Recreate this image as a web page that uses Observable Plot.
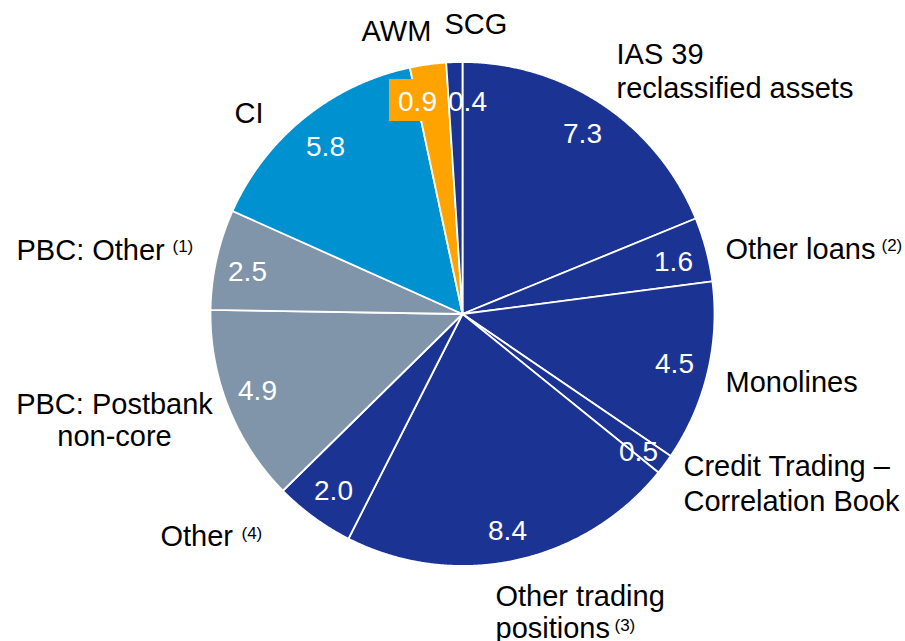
<!DOCTYPE html>
<html>
<head>
<meta charset="utf-8">
<script src="https://cdn.jsdelivr.net/npm/d3@7"></script>
<script src="https://cdn.jsdelivr.net/npm/@observablehq/plot@0.6"></script>
<style>
  html, body { margin: 0; padding: 0; background: #fff; }
  #chart svg { display: block; }
</style>
</head>
<body>
<div id="chart"></div>
<script>
// ---- data ----
const categories = [
  "IAS 39 reclassified assets", "Other loans", "Monolines",
  "Credit Trading – Correlation Book", "Other trading positions", "Other",
  "PBC: Postbank non-core", "PBC: Other", "CI", "AWM", "SCG"
];
const values = [7.3, 1.6, 4.5, 0.5, 8.4, 2.0, 4.9, 2.5, 5.8, 0.9, 0.4];
const segments = ["CB&S", "CB&S", "CB&S", "CB&S", "CB&S", "CB&S", "PBC", "PBC", "CI", "AWM", "SCG"];

// ---- style / layout ----
const palette = {"CB&S": "#1b3494", "PBC": "#8095a9", "CI": "#0091d0", "AWM": "#ffa300", "SCG": "#1b3494"};
const W = 905, H = 641;
const cx = 462, cy = 313.5, R = 252;
const FONT = "'Liberation Sans', Arial, Helvetica, sans-serif";

// category label lines: [category index, line text, x, baseline y, anchor]
const labelLayout = [
  [0, "IAS 39", 616, 63, "start"],
  [0, "reclassified assets", 616, 97, "start"],
  [1, "Other loans", 725, 258, "start"],
  [2, "Monolines", 725, 391, "start"],
  [3, "Credit Trading –", 683, 475, "start"],
  [3, "Correlation Book", 683, 510, "start"],
  [4, "Other trading", 495, 605, "start"],
  [4, "positions", 495, 637, "start"],
  [5, "Other", 160, 545, "start"],
  [6, "PBC: Postbank", 114, 413, "middle"],
  [6, "non-core", 114, 445, "middle"],
  [7, "PBC: Other", 16, 259, "start"],
  [8, "CI", 234, 122, "start"],
  [9, "AWM", 361, 40, "start"],
  [10, "SCG", 444, 33, "start"]
];
// footnote marks: [text, x, baseline y]
const footnotes = [
  ["(1)", 172, 251],
  ["(2)", 881, 250],
  ["(3)", 614, 630],
  ["(4)", 241, 538]
];
// value label positions (center x, baseline y), by category index
const valuePos = [
  [582, 142], [673, 270], [674, 372], [638, 460], [507, 539], [333, 499],
  [257, 399], [247, 280], [325, 155], [417, 110], [467, 110]
];
// highlight box behind the AWM value
const awmBox = [{x1: 389, x2: 440, y1: 79, y2: 121}];

// ---- build slices from data ----
const pie = d3.pie().sort(null).value(d => d)(values);
const slicePoints = [];
pie.forEach((p, i) => {
  const name = categories[i];
  const color = palette[segments[i]];
  slicePoints.push({name, color, x: cx, y: cy});
  const n = Math.max(2, Math.ceil((p.endAngle - p.startAngle) / (Math.PI / 720)));
  for (let k = 0; k <= n; k++) {
    const a = p.startAngle + (p.endAngle - p.startAngle) * k / n;
    slicePoints.push({name, color, x: cx + R * Math.sin(a), y: cy - R * Math.cos(a)});
  }
  slicePoints.push({name, color, x: cx, y: cy});
});

const labelData = labelLayout.map(([i, text, x, y, anchor]) => ({text, x, y, anchor}));
const footData = footnotes.map(([text, x, y]) => ({text, x, y}));
const valueData = values.map((v, i) => ({text: v.toFixed(1), x: valuePos[i][0], y: valuePos[i][1]}));

const chart = Plot.plot({
  width: W,
  height: H,
  margin: 0,
  style: {fontFamily: FONT, background: "#fff"},
  x: {type: "linear", domain: [0, W], range: [0, W], axis: null},
  y: {type: "linear", domain: [0, H], range: [0, H], axis: null},
  color: {type: "identity"},
  marks: [
    Plot.line(slicePoints, {
      x: "x", y: "y", z: "name", fill: "color",
      stroke: "white", strokeWidth: 1.8, strokeLinejoin: "round", curve: "linear"
    }),
    Plot.rect(awmBox, {x1: "x1", x2: "x2", y1: "y1", y2: "y2", fill: palette["AWM"]}),
    Plot.text(valueData, {
      x: "x", y: "y", text: "text", fill: "white", fontSize: 28,
      textAnchor: "middle", lineAnchor: "bottom", fontFamily: FONT
    }),
    Plot.text(labelData.filter(d => d.anchor === "start"), {
      x: "x", y: "y", text: "text", fill: "black", fontSize: 29,
      textAnchor: "start", lineAnchor: "bottom", fontFamily: FONT
    }),
    Plot.text(labelData.filter(d => d.anchor === "middle"), {
      x: "x", y: "y", text: "text", fill: "black", fontSize: 29,
      textAnchor: "middle", lineAnchor: "bottom", fontFamily: FONT
    }),
    Plot.text(footData, {
      x: "x", y: "y", text: "text", fill: "black", fontSize: 17,
      textAnchor: "start", lineAnchor: "bottom", fontFamily: FONT
    })
  ]
});
document.getElementById("chart").appendChild(chart);
</script>
</body>
</html>
